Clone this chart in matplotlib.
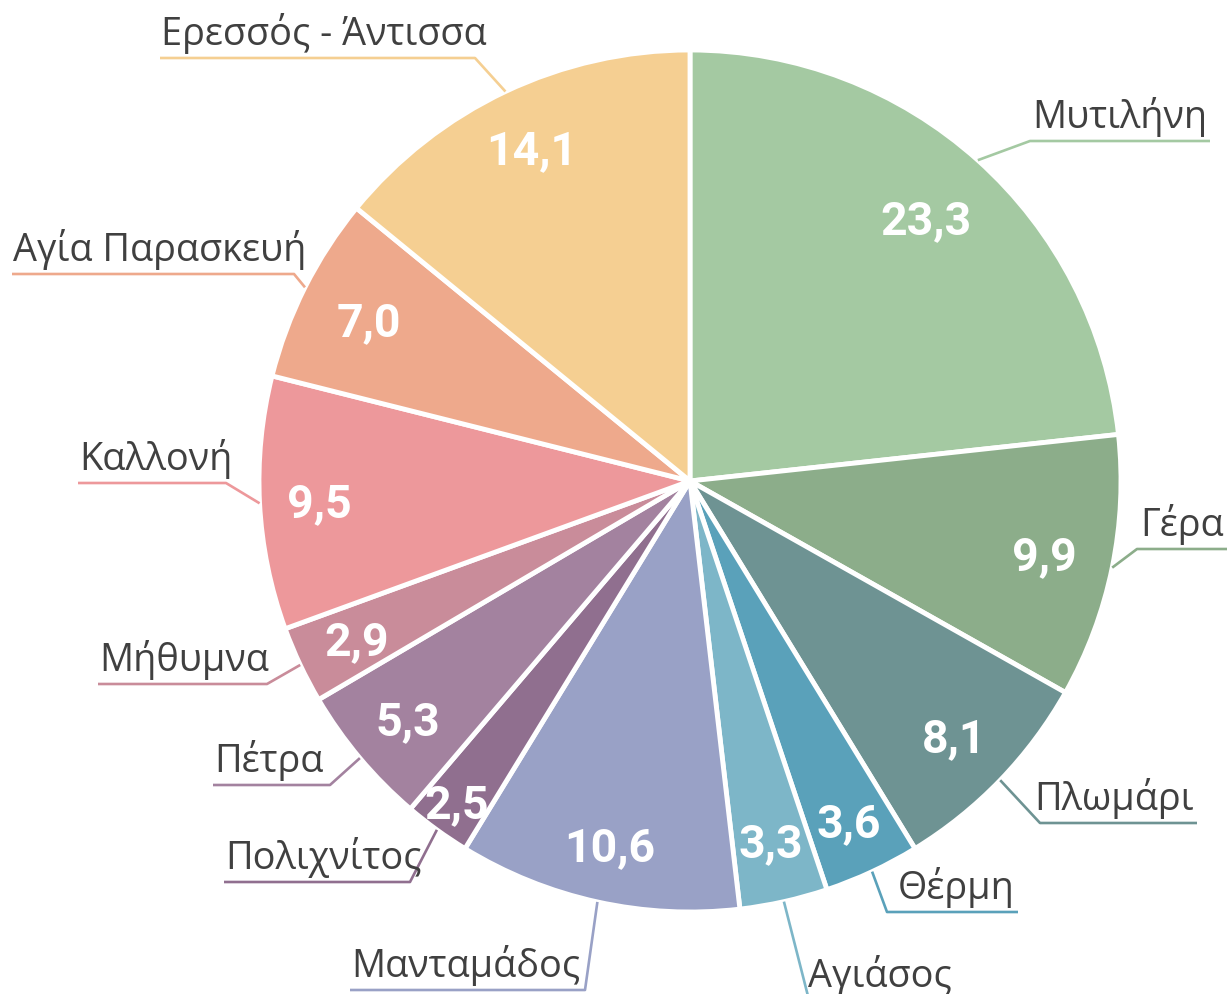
# -*- coding: utf-8 -*-
# Pie chart: share per municipal unit of Lesvos (values in %)

import numpy as np
import matplotlib
matplotlib.use("Agg")
import matplotlib.pyplot as plt

#%% --- Data ---

names = ["Μυτιλήνη", "Γέρα", "Πλωμάρι", "Θέρμη", "Αγιάσος", "Μανταμάδος",
         "Πολιχνίτος", "Πέτρα", "Μήθυμνα", "Καλλονή", "Αγία Παρασκευή",
         "Ερεσσός - Άντισσα"]
values = [23.3, 9.9, 8.1, 3.6, 3.3, 10.6, 2.5, 5.3, 2.9, 9.5, 7.0, 14.1]
value_labels = ["23,3", "9,9", "8,1", "3,6", "3,3", "10,6", "2,5", "5,3",
                "2,9", "9,5", "7,0", "14,1"]

colors = ["#a4c9a2", "#8cad8a", "#6e9393", "#5aa1ba", "#7db6c8", "#99a1c6",
          "#906f8f", "#a3829f", "#c98c9a", "#ed989b", "#eea98c", "#f5cf92"]

#%% --- Layout (pixel units, y measured from the top) ---

W, H = 1227, 994
cx, cy, R = 690, 481, 431

# elbow of the leader line and outer end of the underline
elbows = [(1030, 141), (1137, 549), (1040, 823), (887, 912), (809, 1000),
          (585, 990), (410, 882), (330, 785), (267, 684), (226, 483),
          (294, 274), (475, 58)]
outer_x = [1210, 1227, 1197, 1018, 955, 350, 224, 213, 98, 78, 12, 160]
label_r = [0.82, 0.84, 0.85, 0.87, 0.856, 0.863, 0.92, 0.856, 0.856, 0.86,
           0.833, 0.856]

text_color = "#404040"
value_size = 33.5
digit_half = 0.711 * value_size * 100 / 72 / 2   # half the digit height, px

#%% --- Figure ---

fig = plt.figure(figsize=(W / 100, H / 100), dpi=100)
ax = fig.add_axes([0, 0, 1, 1])

wedges, _ = ax.pie(values,
                   colors=colors,
                   startangle=90,
                   counterclock=False,
                   radius=R,
                   center=(cx, H - cy),
                   wedgeprops=dict(edgecolor="white", linewidth=3.5))

for i, w in enumerate(wedges):
    mid = np.deg2rad((w.theta1 + w.theta2) / 2)
    ux, uy = np.cos(mid), np.sin(mid)

    # value inside the slice
    ax.text(cx + label_r[i] * R * ux,
            H - cy + label_r[i] * R * uy - digit_half,
            value_labels[i], ha="center", va="baseline", color="white",
            fontsize=value_size, fontweight="bold", family="Roboto")

    # leader line: slice edge -> elbow -> underline
    ex, ey = elbows[i]
    ax.plot([cx + R * ux, ex, outer_x[i]], [H - cy + R * uy, H - ey, H - ey],
            color=colors[i], lw=1.9, solid_capstyle="butt", clip_on=False)

    ha = "right" if outer_x[i] > ex else "left"
    ax.text(outer_x[i] - (3 if ha == "right" else -1), H - ey + 13, names[i],
            ha=ha, va="baseline", color=text_color, fontsize=27.3,
            family="Open Sans")

ax.set_xlim(0, W)
ax.set_ylim(0, H)
ax.set_aspect("equal")
ax.set_axis_off()

plt.savefig("out.png", dpi=100)
